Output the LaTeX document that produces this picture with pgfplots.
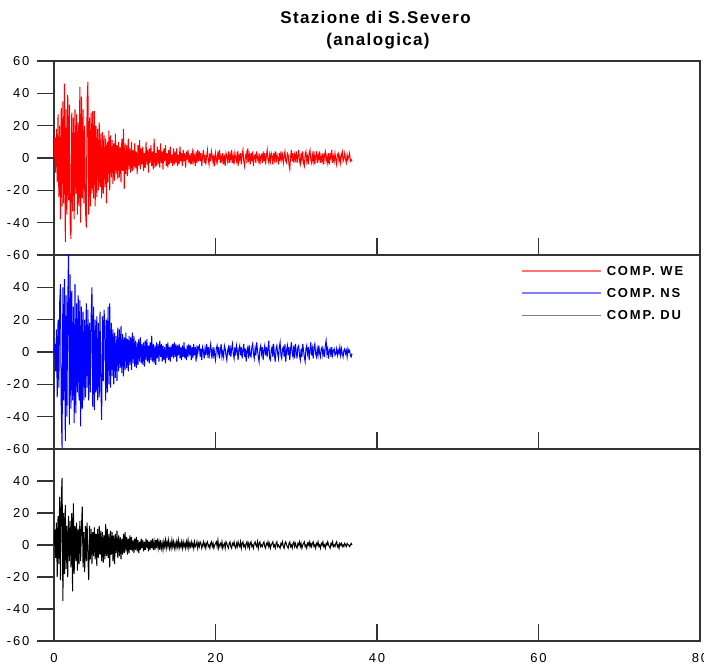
\documentclass[border=0pt]{standalone}
\usepackage{fontspec}
\setmainfont{Liberation Sans}
\newfontfamily\tickfont{Liberation Sans}[LetterSpace=15]
\newfontfamily\titlefont{Liberation Sans}[LetterSpace=8]
\newfontfamily\legfont{Liberation Sans}[LetterSpace=14]
\usepackage{pgfplots}
\pgfplotsset{compat=1.18}
\pgfplotsset{
 seis/.style={
  scale only axis, width=646pt,
  xmin=0, xmax=80, ymin=-60, ymax=60,
  axis line style={draw=black!80, line width=1.5pt},
  tick style={draw=black!80, line width=1.5pt},
  major tick length=17pt,
  xtick={20,40,60}, xticklabels={},
  xtick pos=left, ytick pos=left,
  xtick align=inside, ytick align=outside,
  /pgf/number format/assume math mode=true,
  yticklabel style={font=\tickfont\fontsize{13}{13}\selectfont, xshift=-4pt},
  xticklabel style={font=\tickfont\fontsize{13}{13}\selectfont, yshift=-9pt},
  anchor=south west,
 }
}
\begin{document}
\begin{tikzpicture}
% top: WE
\begin{axis}[seis, height=194pt, at={(54pt,411pt)},
  ytick={-60,-40,-20,0,20,40,60}, yticklabels={-60,-40,-20,0,20,40,60}]
\addplot[red, line width=1pt] table[header=false, row sep=\\, x expr=\coordindex*0.1, y index=0] {
0\\13\\-9\\18\\-15\\27\\-24\\20\\-38\\31\\
-30\\35\\-28\\46\\-52\\30\\-35\\39\\-26\\33\\
-40\\-50\\28\\-33\\25\\-38\\30\\-22\\27\\-35\\
22\\-30\\44\\-40\\38\\-25\\30\\-28\\20\\-32\\
-43\\36\\47\\-35\\25\\-30\\28\\-22\\29\\-25\\
29\\-30\\20\\-24\\18\\-20\\22\\-18\\15\\-25\\
16\\-22\\14\\-18\\12\\-28\\10\\-15\\17\\-20\\
14\\-12\\11\\-16\\9\\-14\\15\\-10\\8\\-13\\
10\\-12\\7\\-15\\12\\-8\\18\\-19\\9\\-10\\
8\\-11\\12\\-7\\6\\-9\\10\\-8\\5\\-7\\
9\\-6\\4\\-10\\8\\-5\\11\\-7\\6\\-4\\
7\\-8\\3\\-6\\10\\-4\\5\\-9\\6\\-3\\
8\\-5\\4\\-7\\12\\-6\\3\\-5\\7\\-4\\
5\\-6\\9\\-3\\4\\-7\\6\\-2\\8\\-5\\
3\\-6\\5\\-4\\7\\-3\\2\\-5\\6\\-4\\
4\\-3\\6\\-5\\2\\-4\\7\\-2\\3\\-5\\
5\\-2\\3\\-6\\4\\-1\\5\\-3\\2\\-4\\
3\\-4\\6\\-2\\1\\-5\\4\\-3\\5\\-2\\
4\\-2\\3\\-5\\1\\5\\-3\\2\\-4\\1\\
5\\-1\\-4\\3\\-2\\4\\1\\-3\\2\\-5\\
3\\0\\-4\\4\\-1\\5\\-3\\1\\-2\\3\\
-4\\2\\-5\\3\\1\\-2\\4\\-3\\2\\-1\\
5\\-3\\1\\-4\\3\\0\\-2\\4\\-5\\2\\
-1\\3\\-4\\2\\5\\-2\\-5\\1\\3\\-3\\
6\\-1\\2\\-4\\3\\-2\\4\\-5\\1\\2\\
-3\\4\\0\\-2\\3\\-4\\1\\2\\-3\\4\\
-2\\3\\-4\\1\\5\\-1\\-3\\2\\-2\\3\\
1\\-4\\3\\-1\\4\\-3\\2\\0\\-4\\3\\
-2\\4\\-1\\2\\-3\\1\\4\\-2\\-3\\3\\
2\\-4\\-7\\1\\5\\-2\\3\\-3\\2\\-1\\
4\\-3\\1\\5\\-2\\-4\\3\\-1\\4\\-3\\
-5\\2\\4\\-2\\1\\-4\\3\\5\\-1\\-3\\
2\\-2\\4\\-4\\1\\3\\-3\\2\\-1\\4\\
-3\\1\\-2\\3\\-4\\2\\4\\-2\\1\\-3\\
3\\-4\\2\\0\\5\\-3\\1\\-2\\3\\-1\\
-4\\2\\3\\-2\\1\\-3\\2\\4\\-2\\0\\
3\\-1\\-3\\2\\-1\\1\\3\\-2\\-1\\-2\\
};
\end{axis}
% middle: NS
\begin{axis}[seis, height=194pt, at={(54pt,217pt)},
  ytick={-60,-40,-20,0,20,40}, yticklabels={-60,-40,-20,0,20,40},
  legend style={draw=none, fill=none, at={(0.7229,0.955)}, anchor=north west,
    font=\legfont\bfseries\fontsize{13}{13}\selectfont, row sep=7.5pt, inner sep=0pt,
    column sep=3pt},
  legend cell align=left]
\addlegendimage{legend image code/.code={\draw[draw=red!55, line width=1.6pt] (0pt,0pt) -- (79pt,0pt);}}
\addlegendentry{COMP. WE}
\addlegendimage{legend image code/.code={\draw[draw=blue!50, line width=1.6pt] (0pt,0pt) -- (79pt,0pt);}}
\addlegendentry{COMP. NS}
\addlegendimage{legend image code/.code={\draw[draw=black!50, line width=1.6pt] (0pt,0pt) -- (79pt,0pt);}}
\addlegendentry{COMP. DU}
\addplot[blue, line width=1pt, forget plot] table[header=false, row sep=\\, x expr=\coordindex*0.1, y index=0] {
0\\5\\-12\\14\\-28\\20\\-22\\30\\42\\-35\\
-60\\40\\-30\\45\\-55\\35\\-40\\30\\62\\-45\\
48\\-35\\38\\-30\\28\\-44\\42\\-38\\30\\-25\\
35\\-30\\32\\-46\\28\\-35\\25\\-30\\20\\-28\\
30\\-22\\26\\-30\\18\\-25\\22\\40\\-34\\28\\
-36\\20\\-25\\22\\-30\\18\\-28\\25\\-20\\-42\\
22\\-18\\26\\15\\-30\\20\\-25\\28\\-20\\30\\
-22\\18\\-15\\14\\-20\\12\\-16\\10\\-18\\15\\
-12\\14\\-10\\16\\-13\\11\\-15\\9\\-11\\12\\
-10\\8\\-12\\10\\-8\\9\\-11\\12\\-7\\10\\
-9\\7\\-10\\6\\-8\\8\\-6\\9\\-7\\5\\
-8\\6\\-9\\7\\-5\\8\\-6\\4\\-7\\6\\
-5\\10\\-6\\5\\-7\\4\\-8\\6\\-4\\5\\
-6\\7\\-3\\5\\-6\\4\\-5\\3\\-7\\5\\
-4\\6\\-5\\3\\-6\\4\\-3\\5\\-4\\6\\
-3\\5\\-6\\4\\-2\\5\\-4\\3\\-5\\4\\
-3\\6\\-4\\2\\-5\\4\\-3\\5\\-2\\4\\
-5\\3\\-4\\5\\-2\\3\\-6\\4\\-1\\3\\
4\\-3\\2\\-5\\3\\1\\-4\\2\\-2\\5\\
-1\\3\\-4\\2\\5\\-2\\1\\-4\\3\\-2\\
-5\\2\\4\\-1\\3\\-4\\1\\5\\-3\\0\\
-3\\4\\2\\-2\\-5\\1\\3\\-2\\4\\-3\\
2\\5\\-1\\-4\\3\\-2\\4\\1\\-5\\2\\
4\\-2\\3\\-4\\1\\5\\-3\\2\\-6\\1\\
3\\-4\\4\\-2\\-3\\3\\5\\-1\\-4\\2\\
-2\\6\\1\\-3\\-6\\2\\4\\-1\\3\\-5\\
1\\4\\-2\\3\\-3\\2\\7\\-4\\-5\\1\\
3\\-3\\5\\-2\\-6\\2\\4\\-1\\-4\\3\\
6\\-2\\-4\\2\\3\\-3\\5\\-6\\1\\4\\
-2\\3\\-5\\2\\6\\-1\\-3\\4\\-4\\5\\
0\\-4\\3\\4\\-2\\-5\\2\\-3\\5\\1\\
-3\\-6\\2\\4\\-1\\3\\-5\\1\\6\\-2\\
2\\-4\\3\\5\\-1\\-3\\2\\-2\\4\\-1\\
-3\\2\\3\\-2\\1\\-3\\4\\7\\-1\\2\\
-4\\1\\2\\-3\\3\\-2\\1\\2\\-2\\-1\\
2\\-2\\1\\-1\\3\\-2\\2\\-1\\-3\\1\\
2\\-1\\1\\-3\\2\\0\\1\\-2\\-3\\-1\\
};
\end{axis}
% bottom: DU
\begin{axis}[seis, height=192pt, at={(54pt,25pt)},
  ytick={-60,-40,-20,0,20,40}, yticklabels={-60,-40,-20,0,20,40},
  xtick={0,20,40,60,80}, xticklabels={0,20,40,60,80}]
\addplot[black, line width=1pt] table[header=false, row sep=\\, x expr=\coordindex*0.1, y index=0] {
0\\10\\-8\\14\\-20\\18\\-12\\30\\-22\\28\\
42\\-35\\20\\-18\\25\\-15\\12\\-20\\18\\-10\\
15\\-14\\20\\-29\\26\\-18\\12\\-10\\14\\-16\\
10\\-12\\15\\-10\\11\\24\\-14\\8\\-17\\12\\
-10\\14\\-8\\-22\\12\\-9\\10\\-12\\8\\-7\\
11\\-9\\7\\-13\\10\\-8\\12\\-6\\9\\-10\\
8\\-11\\6\\-9\\13\\-7\\10\\-8\\7\\-14\\
9\\-6\\8\\-10\\6\\-12\\7\\-5\\9\\-8\\
6\\-7\\5\\-9\\4\\-6\\7\\-5\\8\\-4\\
5\\-6\\4\\-5\\6\\-3\\5\\-4\\3\\-5\\
4\\-3\\5\\-4\\3\\-5\\2\\-3\\4\\-2\\
3\\-4\\2\\-3\\4\\-2\\3\\-4\\2\\-3\\
3\\-2\\4\\-3\\2\\-3\\3\\-2\\4\\-2\\
2\\-3\\3\\-2\\1\\-3\\2\\-1\\3\\-2\\
2\\-1\\3\\-2\\1\\-2\\3\\-1\\2\\-2\\
1\\-2\\2\\-1\\3\\-2\\1\\-1\\2\\-2\\
2\\-1\\1\\-2\\2\\-1\\3\\-2\\1\\-1\\
2\\-1\\1\\-2\\2\\-1\\0\\2\\-2\\1\\
-1\\2\\1\\-2\\0\\2\\-1\\1\\-2\\1\\
2\\-1\\0\\-2\\1\\2\\-1\\1\\-2\\0\\
1\\2\\-1\\3\\-2\\0\\1\\-1\\2\\-2\\
0\\1\\-2\\2\\1\\-1\\-2\\1\\2\\-1\\
-2\\1\\0\\2\\-1\\-2\\1\\-1\\2\\0\\
-1\\2\\-2\\1\\2\\-1\\0\\-2\\1\\2\\
-1\\1\\-2\\1\\2\\-1\\0\\-2\\1\\2\\
0\\-1\\2\\-2\\1\\2\\-1\\0\\-1\\1\\
2\\-1\\-2\\1\\0\\2\\-1\\1\\-2\\0\\
1\\2\\-1\\0\\-2\\1\\2\\-1\\0\\-1\\
-2\\1\\0\\2\\-1\\-2\\1\\2\\0\\-1\\
-2\\1\\2\\-1\\0\\-2\\1\\2\\-1\\1\\
-1\\-2\\1\\0\\2\\-1\\1\\-2\\0\\1\\
2\\-1\\0\\-2\\1\\0\\2\\-1\\1\\-1\\
1\\2\\-1\\0\\-2\\1\\0\\2\\-1\\0\\
-2\\1\\0\\2\\-1\\0\\-2\\1\\0\\2\\
0\\-1\\-2\\1\\0\\2\\-1\\0\\-1\\1\\
2\\-1\\0\\-2\\1\\0\\1\\-1\\0\\-1\\
1\\0\\-1\\1\\0\\0\\-1\\0\\1\\0\\
};
\end{axis}
\node[anchor=base, font=\titlefont\bfseries\fontsize{17}{17}\selectfont] at (375.5pt,642pt) {Stazione di S.Severo};
\node[anchor=base, font=\titlefont\bfseries\fontsize{17}{17}\selectfont] at (378pt,620pt) {(analogica)};
\pgfresetboundingbox
\useasboundingbox (0pt,0pt) rectangle (704pt,666pt);
\end{tikzpicture}
\end{document}
